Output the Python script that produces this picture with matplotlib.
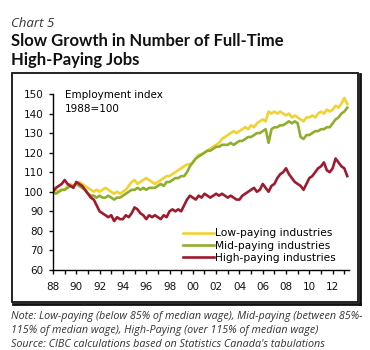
import numpy as np
import matplotlib
matplotlib.use('Agg')
import matplotlib.pyplot as plt
from matplotlib.patches import Rectangle
from matplotlib.lines import Line2D

# quarterly readings, 1988 Q1 .. 2013 Q2 (index 1988=100)
years = np.arange(1988, 2013.5, 0.25)

low_paying = [
    100, 101, 100, 101,  101, 103, 104, 103,  104, 105, 104, 103,
    102, 101, 100, 101,  100, 101, 102, 101,  100, 99, 100, 99,
    100, 101, 103, 105,  106, 104, 105, 106,  107, 106, 105, 104,
    105, 106, 107, 108,  108, 109, 110, 111,  112, 113, 114, 114,
    115, 117, 119, 119,  120, 121, 122, 123,  124, 125, 127, 128,
    129, 130, 131, 130,  131, 132, 133, 132,  134, 133, 135, 136,
    137, 136, 141, 140,  141, 140, 141, 140,  139, 140, 138, 139,
    138, 137, 136, 138,  138, 139, 138, 140,  141, 140, 142, 141,
    142, 144, 143, 145,  148, 145,
]
mid_paying = [
    100, 99, 100, 101,  101, 102, 103, 103,  104, 103, 102, 101,
    99, 98, 98, 97,  98, 97, 97, 98,  97, 96, 97, 97,
    98, 99, 100, 101,  101, 102, 101, 102,  101, 102, 102, 102,
    103, 104, 103, 105,  105, 106, 107, 107,  108, 108, 110, 113,
    115, 117, 118, 119,  120, 121, 121, 122,  123, 123, 124, 124,
    124, 125, 124, 125,  126, 126, 127, 128,  128, 129, 130, 130,
    131, 132, 125, 132,  133, 133, 134, 134,  135, 136, 135, 136,
    135, 128, 127, 129,  129, 130, 131, 131,  132, 132, 133, 133,
    135, 137, 138, 140,  141, 143,
]
high_paying = [
    100, 102, 103, 104,  106, 104, 103, 102,  105, 104, 103, 101,
    99, 97, 96, 93,  90, 89, 88, 87,  88, 85, 87, 86,
    86, 88, 87, 89,  92, 91, 89, 88,  86, 88, 87, 88,
    87, 86, 88, 87,  90, 91, 90, 91,  90, 93, 96, 98,
    97, 96, 98, 97,  99, 98, 97, 98,  99, 98, 99, 98,
    97, 98, 97, 96,  96, 98, 99, 100,  101, 102, 100, 101,
    104, 102, 100, 103,  104, 107, 109, 110,  112, 109, 107, 105,
    104, 103, 101, 104,  107, 108, 110, 112,  113, 115, 111, 110,
    112, 117, 115, 113,  112, 108,
]
labels = ['Low-paying industries', 'Mid-paying industries', 'High-paying industries']
colors = ['#F2D232', '#8FAE2E', '#9E1B2E']

fig = plt.figure(figsize=(3.7, 3.5), dpi=100)
ax = fig.add_axes([0.1432, 0.2286, 0.80, 0.5029])

for vals, lab, col in zip([low_paying, mid_paying, high_paying], labels, colors):
    ax.plot(years, vals, color=col, lw=1.9, label=lab, solid_joinstyle='round')

ax.set_xlim(1988, 2013.4)
ax.set_ylim(60, 150)
ax.set_yticks(range(60, 151, 10))
ax.set_xticks(range(1988, 2013, 2))
ax.set_xticklabels(['%02d' % (y % 100) for y in range(1988, 2013, 2)])
ax.set_xticks(range(1989, 2014, 2), minor=True)
for s in ['top', 'right']:
    ax.spines[s].set_visible(False)
for s in ['left', 'bottom']:
    ax.spines[s].set_linewidth(1.0)
ax.tick_params(which='both', direction='out', length=3, width=1.0, labelsize=7.5,
               colors='#111111', pad=4)
ax.tick_params(axis='x', pad=6)

ax.text(0.04, 1.02, 'Employment index\n1988=100', transform=ax.transAxes,
        ha='left', va='top', fontsize=7.5, linespacing=1.45)

ax.legend(loc='lower right', bbox_to_anchor=(0.955, 0.04), frameon=False,
          fontsize=7.7, handlelength=2.9, handletextpad=0.1, labelspacing=0.22,
          borderpad=0, borderaxespad=0)

# frame around chart with a little drop shadow
fig.patches.append(Rectangle((12 / 370, 1 - 302 / 350), 346 / 370, 229 / 350,
                             transform=fig.transFigure, fill=False, lw=1.3,
                             edgecolor='#111111'))
fig.lines.append(Line2D([359.5 / 370, 359.5 / 370], [1 - 303.5 / 350, 1 - 74 / 350],
                        transform=fig.transFigure, color='#111111', lw=2.0))
fig.lines.append(Line2D([13 / 370, 359.5 / 370], [1 - 303.5 / 350, 1 - 303.5 / 350],
                        transform=fig.transFigure, color='#111111', lw=2.0))

fig.text(11 / 370, 1 - 27 / 350, 'Chart 5', style='italic', fontsize=9.5,
         family='Open Sans', color='#333333', va='baseline')
fig.text(11 / 370, 1 - 46 / 350, 'Slow Growth in Number of Full-Time', fontsize=12,
         weight='bold', family='Lato', color='#111111', va='baseline')
fig.text(11 / 370, 1 - 65 / 350, 'High-Paying Jobs', fontsize=12,
         weight='bold', family='Lato', color='#111111', va='baseline')

notes = ['Note: Low-paying (below 85% of median wage), Mid-paying (between 85%-',
         '115% of median wage), High-Paying (over 115% of median wage)',
         "Source: CIBC calculations based on Statistics Canada's tabulations"]
for i, line in enumerate(notes):
    fig.text(11 / 370, 1 - (319 + 14 * i) / 350, line, style='italic', fontsize=7.75,
             family='Open Sans', color='#333333', va='baseline')

fig.savefig('out.png', dpi=100)
